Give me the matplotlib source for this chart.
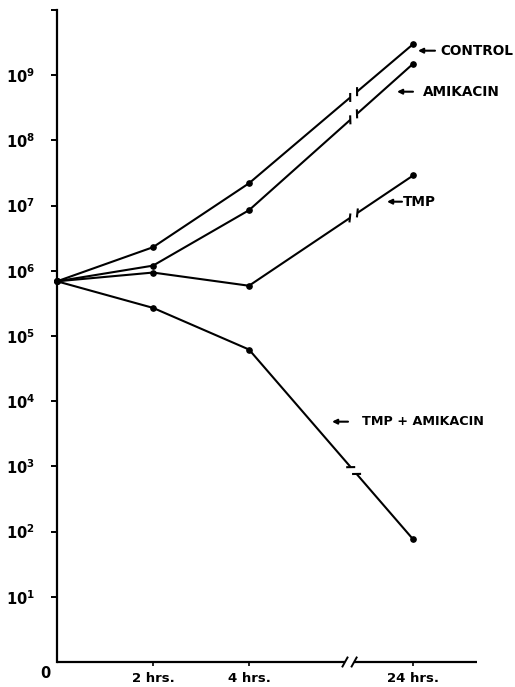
import matplotlib
matplotlib.use('Agg')
import matplotlib.pyplot as plt
import numpy as np

plt.rcParams['font.family'] = ['DejaVu Sans']
plt.rcParams['mathtext.fontset'] = 'dejavusans'

# ---- data (bacterial counts) ----
hours = ['0', '2 hrs.', '4 hrs.', '24 hrs.']
x_pos = [0, 2, 4, 7.42]          # 24 hrs is drawn on a compressed (broken) axis
control = [6.9e5, 2.3e6, 2.2e7, 3.0e9]
amikacin = [6.9e5, 1.2e6, 8.5e6, 1.5e9]
tmp = [6.9e5, 9.4e5, 5.9e5, 2.9e7]
tmp_amikacin = [6.9e5, 2.7e5, 6.2e4, 76]

series_names = ['CONTROL', 'AMIKACIN', 'TMP', 'TMP + AMIKACIN']
series = [control, amikacin, tmp, tmp_amikacin]
decades = list(range(1, 11))

X_BREAK_AX = (6.0, 6.19)   # x-axis break slashes
X_BREAK_LINE = 6.18        # break on the data lines

fig = plt.figure(figsize=(5.15, 6.87), dpi=100)
ax = fig.add_axes([57/515, 25/687, 420/515, 652/687])
ax.set_yscale('log')
ax.set_xlim(0, 8.75)
ax.set_ylim(1, 1e10)

for s in ['top', 'right', 'bottom']:
    ax.spines[s].set_visible(False)
ax.spines['left'].set_linewidth(1.6)

ax.set_yticks([10.0**d for d in decades])
ax.set_yticklabels([r'$\mathbf{10^{%d}}$' % d if d < 10 else '' for d in decades],
                   fontsize=10.5)
ax.yaxis.set_minor_locator(matplotlib.ticker.NullLocator())
ax.tick_params(axis='y', direction='out', length=4, width=1.4, pad=12)
ax.set_xticks(x_pos[1:])
ax.set_xticklabels(hours[1:], fontsize=9.5, fontweight='bold')
ax.tick_params(axis='x', direction='out', length=3, width=1.2, pad=4)
ax.text(-0.028, -0.018, hours[0], transform=ax.transAxes, fontsize=10.5,
        fontweight='bold', ha='center', va='center')

# broken x-axis
ax.plot([0, X_BREAK_AX[0]], [0, 0], color='black', lw=1.6,
        transform=ax.get_xaxis_transform(), clip_on=False, solid_capstyle='butt')
ax.plot([X_BREAK_AX[1], 8.75], [0, 0], color='black', lw=1.6,
        transform=ax.get_xaxis_transform(), clip_on=False, solid_capstyle='butt')
to_disp = ax.transData
inv = ax.transData.inverted()
for xb in X_BREAK_AX:
    bx, by = to_disp.transform((xb, 1.0))
    p = inv.transform([(bx - 2.5, by - 4.5), (bx + 2.5, by + 4.5)])
    ax.plot(p[:, 0], p[:, 1], color='black', lw=1.4, clip_on=False)


def broken_line(xs, ys):
    pts = to_disp.transform(np.column_stack([xs, ys]))
    bxd = to_disp.transform((X_BREAK_LINE, 1.0))[0]
    out = []
    for i in range(len(pts) - 1):
        p0, p1 = pts[i], pts[i + 1]
        if p0[0] < bxd < p1[0]:
            t = (bxd - p0[0]) / (p1[0] - p0[0])
            b = p0 + t * (p1 - p0)
            u = (p1 - p0) / np.hypot(*(p1 - p0))
            ga, gb = b - 4.5 * u, b + 4.5 * u
            out.append(np.array([p0, ga]))
            out.append(np.array([gb, p1]))
            ang = np.arctan2(u[1], u[0]) + np.radians(50)
            v = np.array([np.cos(ang), np.sin(ang)])
            for g in (ga, gb):
                out.append(np.array([g - 4.5 * v, g + 4.5 * v]))
        else:
            out.append(np.array([p0, p1]))
    for seg in out:
        d = inv.transform(seg)
        ax.plot(d[:, 0], d[:, 1], color='black', lw=1.5, clip_on=False,
                solid_capstyle='butt')


for ys in series:
    broken_line(x_pos, ys)
    ax.plot(x_pos, ys, linestyle='none', marker='o', markersize=3.8,
            color='black', clip_on=False, zorder=5)

# labels with arrows (axes-fraction positions)
label_pos = [(0.8595, 0.9376, 0.9, 0.912),
             (0.8095, 0.8747, 0.8476, 0.871),
             (0.7857, 0.706, 0.8214, 0.824),
             (0.6548, 0.3686, 0.6929, 0.726)]
for name, (hx, yy, tx, lx) in zip(series_names, label_pos):
    ax.annotate('', xy=(hx, yy), xytext=(tx, yy), xycoords='axes fraction',
                textcoords='axes fraction',
                arrowprops=dict(arrowstyle='-|>', color='black', lw=1.5,
                                mutation_scale=7, shrinkA=0, shrinkB=0))
    ax.text(lx, yy, name, transform=ax.transAxes, fontsize=9.8 if len(name) < 10 else 9.2,
            fontweight='bold', ha='left', va='center')

fig.savefig('out.png', dpi=100, facecolor='white')
